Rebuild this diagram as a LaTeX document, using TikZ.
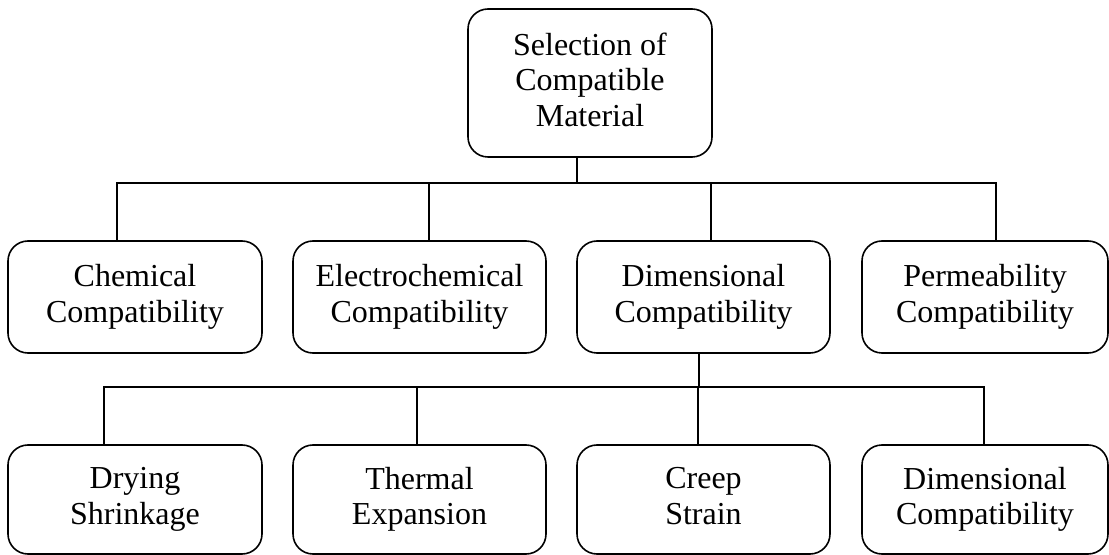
\documentclass[tikz,border=0pt]{standalone}
\usepackage{fontspec}
\setmainfont{Liberation Serif}
\begin{document}
\begin{tikzpicture}[x=0.75pt,y=-0.75pt,
  box/.style={draw, line width=1.2pt, rounded corners=15pt, inner sep=0pt, align=center,
    font=\fontsize{24}{26.6}\selectfont,
    execute at begin node=\vphantom{Ch}, execute at end node=\vphantom{py}},
  conn/.style={line width=1.2pt, line cap=rect}]
\useasboundingbox (0,0) rectangle (1109,555);
% top
\node[box, minimum width=183pt, minimum height=111pt] (top) at (590,83) {Selection of\\Compatible\\Material};
% row 2
\node[box, minimum width=190.5pt, minimum height=84pt] (chem) at (135,297) {Chemical\\Compatibility};
\node[box, minimum width=189.75pt, minimum height=84pt] (elec) at (419.5,297) {Electrochemical\\Compatibility};
\node[box, minimum width=189.75pt, minimum height=84pt] (dim) at (703.5,297) {Dimensional\\Compatibility};
\node[box, minimum width=184.5pt, minimum height=84pt] (perm) at (985,297) {Permeability\\Compatibility};
% row 3
\node[box, minimum width=190.5pt, minimum height=81.75pt] (dry) at (135,499.5) {Drying\\Shrinkage};
\node[box, minimum width=189.75pt, minimum height=81.75pt] (therm) at (419.5,499.5) {Thermal\\Expansion};
\node[box, minimum width=189.75pt, minimum height=81.75pt] (creep) at (703.5,499.5) {Creep\\Strain};
\node[box, minimum width=184.5pt, minimum height=81.75pt] (dimc) at (985,499.5) {Dimensional\\Compatibility};
% upper bus
\coordinate (t1) at (577,183);
\coordinate (busL) at (117,183);
\coordinate (busR) at (996,183);
\coordinate (e1) at (429,183);
\coordinate (d1) at (711,183);
\draw[conn] (top.south -| t1) -- (t1);
\draw[conn] (chem.north -| busL) -- (busL) -- (busR) -- (perm.north -| busR);
\draw[conn] (e1) -- (elec.north -| e1);
\draw[conn] (d1) -- (dim.north -| d1);
% lower bus
\coordinate (t2) at (699,387);
\coordinate (lbL) at (104,387);
\coordinate (lbR) at (984,387);
\coordinate (th1) at (417,387);
\coordinate (cr1) at (698,387);
\draw[conn] (dim.south -| t2) -- (t2);
\draw[conn] (dry.north -| lbL) -- (lbL) -- (lbR) -- (dimc.north -| lbR);
\draw[conn] (th1) -- (therm.north -| th1);
\draw[conn] (cr1) -- (creep.north -| cr1);
\end{tikzpicture}
\end{document}
